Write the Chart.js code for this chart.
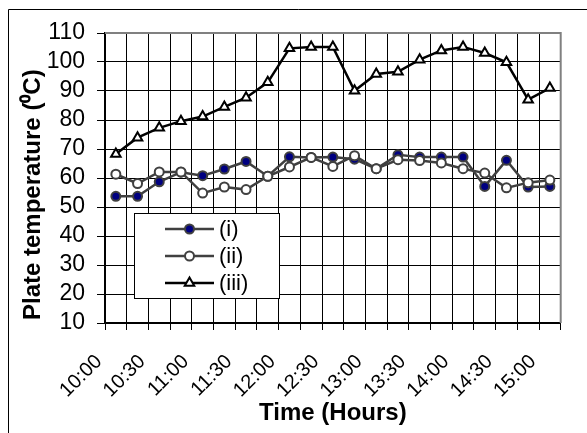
<!DOCTYPE html>
<html>
<head>
<meta charset="utf-8">
<script src="https://cdn.jsdelivr.net/npm/chart.js@4/dist/chart.umd.min.js"></script>
<style>
  html, body { margin: 0; padding: 0; background: #fff; }
</style>
</head>
<body>
<canvas id="chart" width="587" height="433"></canvas>
<script>
// 15-minute readings, labelled every half hour
const times = ['10:00', '10:15', '10:30', '10:45', '11:00', '11:15', '11:30', '11:45',
  '12:00', '12:15', '12:30', '12:45', '13:00', '13:15', '13:30', '13:45',
  '14:00', '14:15', '14:30', '14:45', '15:00'];
const seriesI = [53.7, 53.7, 58.7, 62, 60.8, 63.1, 65.7, 60.6, 67.3, 67.1, 67.2,
  66.5, 63.2, 68, 67.2, 67.2, 67.2, 57.1, 66.1, 56.9, 57.1];
const seriesII = [61.3, 58.1, 62.1, 62.1, 54.8, 56.9, 56, 60.6, 63.8, 67.1, 64,
  67.7, 63.2, 66.3, 66, 65.2, 63.2, 61.7, 56.6, 58.4, 59.3];
const seriesIII = [68.3, 73.9, 77.3, 79.6, 81.2, 84.5, 87.7, 93, 104.7, 105.2, 105.2,
  90.1, 95.9, 96.6, 100.8, 104, 105.2, 103.1, 99.9, 87, 91];
const legendLabels = ['(i)', '(ii)', '(iii)'];

const FONT = 'Arial, "Liberation Sans", sans-serif';

// outer frame + plot border
const framePlugin = {
  id: 'frame',
  beforeDraw(chart) {
    const ctx = chart.ctx;
    ctx.save();
    ctx.strokeStyle = '#000';
    ctx.lineWidth = 1;
    ctx.beginPath();
    ctx.moveTo(8.5, 440);
    ctx.lineTo(8.5, 9.5);
    ctx.lineTo(600, 9.5);
    ctx.stroke();
    ctx.restore();
  },
  afterDatasetsDraw(chart) {
    const ctx = chart.ctx;
    const a = chart.chartArea;
    ctx.save();
    ctx.strokeStyle = '#808080';
    ctx.lineWidth = 2;
    ctx.beginPath();
    ctx.moveTo(a.left, a.top);
    ctx.lineTo(a.right, a.top);
    ctx.lineTo(a.right, a.bottom);
    ctx.stroke();
    ctx.restore();
  }
};

// boxed legend inside the plot, lower left
const boxLegend = {
  id: 'boxLegend',
  afterDraw(chart) {
    const ctx = chart.ctx;
    const a = chart.chartArea;
    const x0 = a.left + 29, y0 = a.top + 180, w = 145, h = 85;
    ctx.save();
    ctx.fillStyle = '#fff';
    ctx.fillRect(x0, y0, w, h);
    ctx.strokeStyle = '#000';
    ctx.lineWidth = 1;
    ctx.strokeRect(x0 + 0.5, y0 + 0.5, w, h);
    chart.data.datasets.forEach((ds, i) => {
      const y = y0 + 16 + i * 27;
      ctx.strokeStyle = ds.borderColor;
      ctx.lineWidth = ds.borderWidth;
      ctx.beginPath();
      ctx.moveTo(x0 + 31, y);
      ctx.lineTo(x0 + 80, y);
      ctx.stroke();
      ctx.fillStyle = ds.pointBackgroundColor;
      ctx.strokeStyle = ds.pointBorderColor;
      ctx.lineWidth = ds.pointBorderWidth;
      Chart.helpers.drawPoint(ctx, {
        pointStyle: ds.pointStyle, radius: ds.pointRadius,
        rotation: 0, borderWidth: ds.pointBorderWidth
      }, x0 + 55.5, y);
      ctx.fillStyle = '#000';
      ctx.font = '22px ' + FONT;
      ctx.textBaseline = 'middle';
      ctx.textAlign = 'left';
      ctx.fillText(legendLabels[i], x0 + 85, y + 1);
    });
    ctx.restore();
  }
};

new Chart(document.getElementById('chart'), {
  type: 'line',
  data: {
    labels: times,
    datasets: [
      {
        label: legendLabels[0],
        data: seriesI,
        borderColor: '#404040',
        borderWidth: 2.5,
        pointStyle: 'circle',
        pointRadius: 4.5,
        pointBorderWidth: 2,
        pointBackgroundColor: '#000080',
        pointBorderColor: '#404040',
        order: 1
      },
      {
        label: legendLabels[1],
        data: seriesII,
        borderColor: '#404040',
        borderWidth: 2.5,
        pointStyle: 'circle',
        pointRadius: 4.5,
        pointBorderWidth: 2,
        pointBackgroundColor: '#fff',
        pointBorderColor: '#404040',
        order: 0
      },
      {
        label: legendLabels[2],
        data: seriesIII,
        borderColor: '#000',
        borderWidth: 2.5,
        pointStyle: 'triangle',
        pointRadius: 5.5,
        pointBorderWidth: 2,
        pointBackgroundColor: '#fff',
        pointBorderColor: '#000',
        order: 2
      }
    ]
  },
  options: {
    responsive: false,
    maintainAspectRatio: false,
    animation: false,
    devicePixelRatio: 1,
    layout: { padding: { top: 33, right: 4, left: 0, bottom: 0 } },
    plugins: {
      legend: { display: false },
      tooltip: { enabled: false }
    },
    scales: {
      x: {
        offset: true,
        grid: { offset: true, color: '#000', lineWidth: 1, tickLength: 7 },
        border: { color: '#000', width: 1.5 },
        ticks: {
          autoSkip: false,
          minRotation: 45,
          maxRotation: 45,
          color: '#000',
          font: { family: FONT, size: 20 },
          padding: 20,
          labelOffset: -17,
          callback: (v, i) => (i % 2 === 0 ? times[i] : '')
        },
        title: {
          display: true,
          text: 'Time (Hours)',
          color: '#000',
          font: { family: FONT, size: 24, weight: 'bold' },
          padding: { top: 0, bottom: 5 }
        },
        afterFit: (s) => { s.height = 110; }
      },
      y: {
        min: 10,
        max: 110,
        grid: { color: '#000', lineWidth: 1, tickLength: 8 },
        border: { color: '#000', width: 1.5 },
        ticks: {
          stepSize: 10,
          autoSkip: false,
          color: '#000',
          font: { family: FONT, size: 23 },
          padding: 12
        },
        title: {
          display: true,
          text: 'Plate temperature (\u2070C)     ',
          color: '#000',
          font: { family: FONT, size: 24, weight: 'bold' },
          padding: { top: 19, bottom: 0 }
        },
        afterFit: (s) => { s.width = 105; }
      }
    }
  },
  plugins: [framePlugin, boxLegend]
});
</script>
</body>
</html>
